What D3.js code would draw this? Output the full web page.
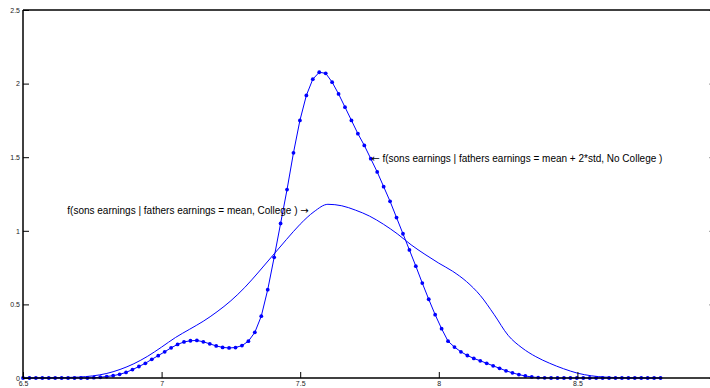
<!DOCTYPE html>
<html>
<head>
<meta charset="utf-8">
<script src="https://cdn.jsdelivr.net/npm/d3@7"></script>
<style>
html,body{margin:0;padding:0;background:#fff;}
svg{display:block;}
</style>
</head>
<body>
<svg id="chart" width="710" height="388"></svg>
<script>
// ---- data ----
const xTicks = [6.5, 7, 7.5, 8, 8.5];
const xTickLabels = ["6.5", "7", "7.5", "8", "8.5"];
const yTicks = [0, 0.5, 1, 1.5, 2, 2.5];
const yTickLabels = ["0", "0.5", "1", "1.5", "2", "2.5"];

// sample grid of the marked curve (100 points, 6.5 .. 8.8)
const gridStart = 6.5, gridEnd = 8.8, gridCount = 100;

// f(sons earnings | fathers earnings = mean + 2*std, No College)
const noCollegeValues = [
  0,0,0,0,0,0,0,0,0,0,
  0,0.002,0.005,0.010,0.016,0.025,0.038,0.057,0.078,0.100,
  0.127,0.152,0.178,0.205,0.228,0.245,0.253,0.255,0.246,0.232,
  0.218,0.208,0.204,0.207,0.220,0.250,0.310,0.420,0.600,0.820,
  1.050,1.280,1.530,1.750,1.920,2.030,2.077,2.070,2.010,1.930,
  1.840,1.750,1.660,1.580,1.490,1.400,1.300,1.200,1.090,0.980,
  0.870,0.760,0.645,0.535,0.430,0.335,0.250,0.210,0.178,0.153,
  0.133,0.117,0.100,0.083,0.066,0.049,0.035,0.023,0.014,0.007,
  0.003,0.001,0,0,0,0,0,0,0,0,
  0,0,0,0,0,0,0,0,0,0
];

// f(sons earnings | fathers earnings = mean, College)
const collegeX = [6.50,6.55,6.60,6.65,6.70,6.75,6.80,6.85,6.90,6.95,
  7.00,7.05,7.10,7.15,7.20,7.25,7.30,7.35,7.40,7.45,
  7.50,7.55,7.60,7.65,7.70,7.75,7.80,7.85,7.90,7.95,
  8.00,8.05,8.10,8.15,8.20,8.25,8.30,8.35,8.40,8.45,
  8.50,8.55,8.60,8.65,8.70,8.75,8.80];
const collegeValues = [0,0,0.001,0.003,0.006,0.014,0.030,0.058,0.097,0.148,
  0.210,0.275,0.330,0.385,0.450,0.525,0.615,0.720,0.830,0.940,
  1.045,1.130,1.180,1.170,1.140,1.100,1.045,0.980,0.905,0.840,
  0.780,0.725,0.655,0.560,0.430,0.290,0.205,0.145,0.100,0.063,
  0.033,0.015,0.006,0.002,0.001,0,0];

const arrowLeft = "\u2190", arrowRight = "\u2192";
const labelNoCollege = "f(sons earnings | fathers earnings = mean + 2*std, No College )";
const labelCollege = "f(sons earnings | fathers earnings = mean, College )";

// ---- drawing ----
const svg = d3.select("#chart");
const mLeft = 23, mRight = 716, mTop = 10, mBottom = 378;
const x = d3.scaleLinear().domain([6.5, 9]).range([mLeft, mRight]);
const y = d3.scaleLinear().domain([0, 2.5]).range([mBottom, mTop]);

const gridX = d3.range(gridCount).map(i => gridStart + i * (gridEnd - gridStart) / (gridCount - 1));
const noCollege = gridX.map((v, i) => ({x: v, y: noCollegeValues[i]}));
const college = collegeX.map((v, i) => ({x: v, y: collegeValues[i]}));

const blue = "#0000ff";

// curves
svg.append("path")
  .datum(college)
  .attr("fill", "none").attr("stroke", blue).attr("stroke-width", 1)
  .attr("d", d3.line().x(d => x(d.x)).y(d => y(d.y)).curve(d3.curveMonotoneX));

svg.append("path")
  .datum(noCollege)
  .attr("fill", "none").attr("stroke", blue).attr("stroke-width", 1)
  .attr("d", d3.line().x(d => x(d.x)).y(d => y(d.y)));

svg.append("g").selectAll("circle")
  .data(noCollege).join("circle")
  .attr("cx", d => x(d.x)).attr("cy", d => y(d.y)).attr("r", 1.9)
  .attr("fill", blue);

// axes
const fmtX = d => xTickLabels[xTicks.indexOf(d)];
const fmtY = d => yTickLabels[yTicks.indexOf(d)];

const gx = svg.append("g").attr("transform", `translate(0,${mBottom})`)
  .call(d3.axisBottom(x).tickValues(xTicks).tickFormat(fmtX).tickSize(-6).tickSizeOuter(0).tickPadding(2));
const gy = svg.append("g").attr("transform", `translate(${mLeft},0)`)
  .call(d3.axisLeft(y).tickValues(yTicks).tickFormat(fmtY).tickSize(-6).tickSizeOuter(0).tickPadding(3));
const gyr = svg.append("g").attr("transform", `translate(${mRight - 1},0)`)
  .call(d3.axisRight(y).tickValues(yTicks).tickFormat("").tickSize(-6).tickSizeOuter(0));

[gx, gy, gyr].forEach(g => {
  g.select(".domain").remove();
  g.selectAll(".tick line").attr("stroke", "#000").attr("stroke-width", 1);
  g.selectAll(".tick text").attr("font-family", "Liberation Sans, Arial, sans-serif")
    .attr("font-size", 7).attr("fill", "#222");
});
gyr.selectAll(".tick line").attr("stroke", "#999");
gx.selectAll(".tick text").attr("dy", "0.9em");

// frame
svg.append("line").attr("x1", mLeft).attr("x2", mLeft).attr("y1", mTop).attr("y2", mBottom)
  .attr("stroke", "#000").attr("stroke-width", 1.5);
svg.append("line").attr("x1", mLeft).attr("x2", mRight).attr("y1", mBottom).attr("y2", mBottom)
  .attr("stroke", "#000").attr("stroke-width", 1.5);
svg.append("line").attr("x1", mLeft).attr("x2", mRight).attr("y1", mTop).attr("y2", mTop)
  .attr("stroke", "#000").attr("stroke-width", 1.5);

// annotations
const font = "Liberation Sans, Arial, sans-serif";
const t1 = svg.append("text").attr("x", x(gridX[54]) + 0.5).attr("y", y(noCollegeValues[54])).attr("dy", "0.35em")
  .attr("font-family", font).attr("font-size", 10).attr("fill", "#000");
t1.append("tspan").attr("font-family", "DejaVu Sans").text(arrowLeft);
t1.append("tspan").text(" " + labelNoCollege);

const t2 = svg.append("text").attr("x", x(7.5) + 8.5).attr("y", y(1.135)).attr("dy", "0.35em")
  .attr("text-anchor", "end")
  .attr("font-family", font).attr("font-size", 10).attr("fill", "#000");
t2.append("tspan").text(labelCollege + " ");
t2.append("tspan").attr("font-family", "DejaVu Sans").text(arrowRight);
</script>
</body>
</html>
